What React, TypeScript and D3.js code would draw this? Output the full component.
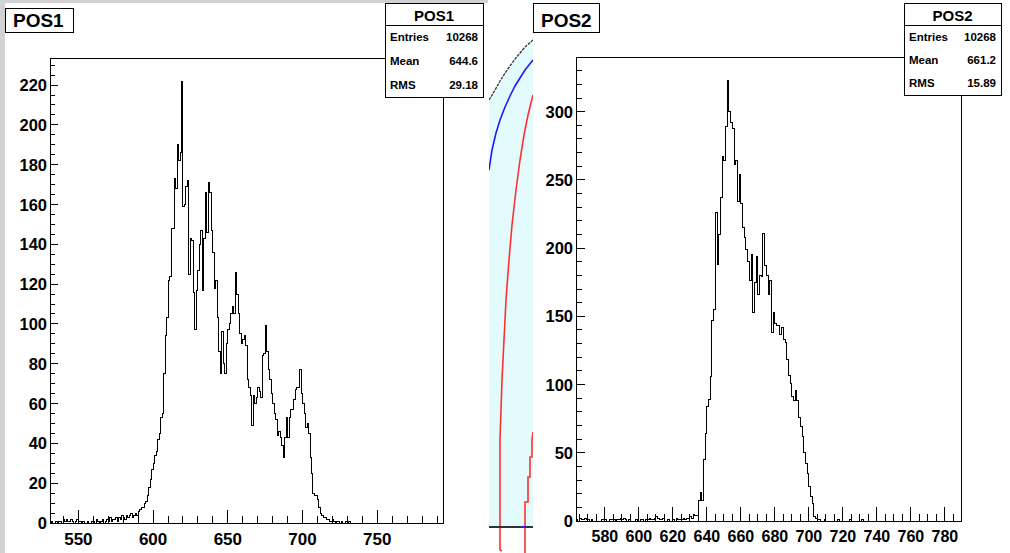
import React from 'react';
import * as d3 from 'd3';

// POS1 histogram, 1-unit bins starting at 531 (bins after the last one are empty)
const POS1_FIRST_BIN = 531;
const POS1_COUNTS = [
  0, 1, 0, 0, 1, 0, 1, 1, 0, 2,
  1, 2, 1, 1, 2, 1, 0, 1, 2, 1,
  1, 0, 1, 0, 0, 1, 0, 0, 1, 1,
  0, 2, 1, 0, 1, 2, 0, 1, 2, 1,
  3, 1, 2, 2, 3, 1, 3, 2, 4, 3,
  2, 4, 3, 4, 5, 3, 4, 5, 4, 6,
  7, 8, 8, 10, 11, 14, 18, 22, 27, 30,
  34, 36, 42, 45, 53, 55, 75, 94, 103, 122,
  124, 148, 148, 173, 168, 190, 182, 186, 222, 159,
  160, 169, 172, 125, 143, 142, 116, 97, 117, 127,
  140, 147, 117, 143, 166, 146, 171, 166, 147, 136,
  118, 122, 103, 86, 75, 96, 80, 75, 90, 97,
  100, 105, 109, 105, 126, 115, 105, 95, 90, 92,
  94, 89, 72, 68, 64, 49, 64, 60, 63, 68,
  66, 63, 84, 85, 99, 86, 77, 72, 65, 60,
  55, 52, 44, 46, 43, 39, 33, 43, 53, 43,
  53, 57, 57, 62, 67, 68, 68, 77, 65, 60,
  55, 48, 50, 45, 33, 25, 15, 14, 14, 12,
  8, 5, 4, 3, 3, 2, 2, 1, 1, 2,
  1, 0, 1, 1, 0, 1, 0, 0, 1, 0, 1,
];

// POS2 histogram, 1-unit bins starting at 563
const POS2_FIRST_BIN = 563;
const POS2_COUNTS = [
  1, 0, 2, 1, 1, 2, 1, 1, 0, 1,
  0, 0, 0, 0, 0, 1, 1, 1, 0, 0,
  1, 1, 1, 0, 1, 1, 2, 1, 2, 1,
  0, 1, 0, 0, 0, 1, 0, 0, 1, 1,
  0, 1, 1, 2, 1, 1, 2, 3, 2, 1,
  1, 2, 0, 0, 1, 0, 0, 1, 0, 2,
  1, 1, 1, 2, 1, 2, 2, 3, 2, 5,
  4, 4, 15, 21, 15, 45, 64, 84, 89, 106,
  147, 155, 226, 188, 210, 237, 267, 264, 289, 323,
  300, 292, 288, 261, 264, 234, 254, 233, 215, 208,
  199, 190, 176, 195, 153, 175, 194, 166, 180, 179,
  211, 187, 180, 166, 176, 138, 153, 145, 143, 143,
  137, 142, 133, 131, 118, 107, 101, 91, 88, 96,
  88, 76, 69, 62, 50, 42, 35, 25, 18, 13,
  3, 2, 1, 1, 0, 0, 1, 0, 0, 0,
  0, 0, 0, 0, 1, 0, 0, 0, 0, 0,
  0, 1, 0, 0, 0, 0, 0, 0, 1,
];

const POS1_STATS = [['Entries', '10268'], ['Mean', '644.6'], ['RMS', '29.18']];
const POS2_STATS = [['Entries', '10268'], ['Mean', '661.2'], ['RMS', '15.89']];

// the window peeking out between the two canvases (its own arbitrary units)
const STRIP_BLACK = [[0, 427], [6, 437], [11, 446], [16, 454], [21, 461], [26, 468], [31, 474], [36, 480], [44, 487]];
const STRIP_BLUE = [[0, 357], [3, 377], [7, 394], [11, 407], [16, 420], [21, 431], [26, 441], [31, 449], [36, 457], [44, 467]];
const STRIP_RED_A = [[44, 432], [39, 412], [35, 392], [31, 367], [27, 337], [23, 302], [20, 267], [17, 227], [15, 187], [13, 147], [12, 117], [11, 87], [11, -23], [13, -24]];
const STRIP_RED_B = [[44, 95], [43, 87], [43, 70], [41, 70], [41, 50], [39, 50], [39, 25], [36, 25], [36, -26]];

const FONT = "'Liberation Sans', Arial, Helvetica, sans-serif";

type PanelProps = {
  title: string;
  counts: number[];
  firstBin: number;
  xDomain: [number, number];
  yMax: number;
  frame: { left: number; top: number; right: number; bottom: number };
  xMajor: number;
  xMinor: number;
  yMajor: number;
  yMinor: number;
  xTickLen: [number, number];
  yTickLen: [number, number];
  xLabelY: number;
  xLabelSize: number;
  titleBox: { x: number; y: number; w: number; h: number };
  statsBox: { x: number; y: number; w: number; h: number };
  stats: string[][];
};

function Panel(p: PanelProps) {
  const { frame } = p;
  const x = d3.scaleLinear().domain(p.xDomain).range([frame.left, frame.right]);
  const y = d3.scaleLinear().domain([0, p.yMax]).range([frame.bottom, frame.top]);

  const pts: [number, number][] = [[p.firstBin, 0]];
  p.counts.forEach((c, i) => pts.push([p.firstBin + i, c]));
  pts.push([p.firstBin + p.counts.length, 0]);
  const line = d3.line<[number, number]>()
    .x(d => x(d[0]))
    .y(d => y(d[1]))
    .curve(d3.curveStepAfter);

  const xTicks = d3.range(Math.ceil(p.xDomain[0] / p.xMinor) * p.xMinor, p.xDomain[1], p.xMinor);
  const yTicks = d3.range(0, p.yMax, p.yMinor);

  const sb = p.statsBox;
  const rowH = (sb.h - 22) / 3;

  return (
    <g fontFamily={FONT} fontWeight="bold">
      <rect x={frame.left} y={frame.top} width={frame.right - frame.left} height={frame.bottom - frame.top}
        fill="none" stroke="#000" strokeWidth={1} shapeRendering="crispEdges" />
      {xTicks.map(t => {
        const major = t % p.xMajor === 0;
        return (
          <line key={'x' + t} x1={x(t)} x2={x(t)} y1={frame.bottom} y2={frame.bottom - (major ? p.xTickLen[0] : p.xTickLen[1])}
            stroke="#000" shapeRendering="crispEdges" />
        );
      })}
      {xTicks.filter(t => t % p.xMajor === 0).map(t => (
        <text key={'xl' + t} x={x(t)} y={p.xLabelY} textAnchor="middle" fontSize={p.xLabelSize}>{t}</text>
      ))}
      {yTicks.map(t => {
        const major = t % p.yMajor === 0;
        return (
          <line key={'y' + t} x1={frame.left} x2={frame.left + (major ? p.yTickLen[0] : p.yTickLen[1])} y1={y(t)} y2={y(t)}
            stroke="#000" shapeRendering="crispEdges" />
        );
      })}
      {yTicks.filter(t => t % p.yMajor === 0).map(t => (
        <text key={'yl' + t} x={frame.left - 3} y={y(t) + 6} textAnchor="end" fontSize={16.5}>{t}</text>
      ))}
      <path d={line(pts) || ''} fill="none" stroke="#000" strokeWidth={1} shapeRendering="crispEdges" />

      <rect x={p.titleBox.x} y={p.titleBox.y} width={p.titleBox.w} height={p.titleBox.h}
        fill="#fff" stroke="#000" shapeRendering="crispEdges" />
      <text x={p.titleBox.x + 8} y={p.titleBox.y + p.titleBox.h - 5} fontSize={19}>{p.title}</text>

      <rect x={sb.x} y={sb.y} width={sb.w} height={sb.h} fill="#fff" stroke="#000" shapeRendering="crispEdges" />
      <line x1={sb.x} x2={sb.x + sb.w} y1={sb.y + 22} y2={sb.y + 22} stroke="#000" shapeRendering="crispEdges" />
      <text x={sb.x + sb.w / 2} y={sb.y + 18} textAnchor="middle" fontSize={15}>{p.title}</text>
      {p.stats.map((s, i) => (
        <g key={s[0]}>
          <text x={sb.x + 5} y={sb.y + 22 + rowH * (i + 0.5) + 4} fontSize={11.5}>{s[0]}</text>
          <text x={sb.x + sb.w - 5} y={sb.y + 22 + rowH * (i + 0.5) + 4} fontSize={11.5} textAnchor="end">{s[1]}</text>
        </g>
      ))}
    </g>
  );
}

function Strip() {
  const xs = d3.scaleLinear().domain([0, 44]).range([489, 533]);
  const ys = d3.scaleLinear().domain([0, 487]).range([527, 40]);
  const line = d3.line<number[]>().x(d => xs(d[0])).y(d => ys(d[1]));
  const area = d3.area<number[]>().x(d => xs(d[0])).y0(ys(0)).y1(d => ys(d[1]));
  return (
    <g>
      <clipPath id="stripClip"><rect x={489} y={0} width={44} height={553} /></clipPath>
      <g clipPath="url(#stripClip)">
        <path d={area(STRIP_BLACK) || ''} fill="#e4fbfd" />
        <path d={line(STRIP_BLACK) || ''} fill="none" stroke="#333" strokeWidth={1.3} strokeDasharray="3 1" />
        <path d={line(STRIP_BLUE) || ''} fill="none" stroke="#1a1aff" strokeWidth={1.6} />
        <path d={line(STRIP_RED_A) || ''} fill="none" stroke="#ff3030" strokeWidth={1.6} />
        <path d={line(STRIP_RED_B) || ''} fill="none" stroke="#ff3030" strokeWidth={1.6} />
        <line x1={xs(0)} x2={xs(44)} y1={ys(0)} y2={ys(0)} stroke="#333" strokeWidth={2} />
        <line x1={xs(32)} x2={xs(36)} y1={ys(0)} y2={ys(0)} stroke="#2222ff" strokeWidth={2} />
      </g>
    </g>
  );
}

export default function App() {
  return (
    <div style={{ position: 'fixed', left: 0, top: 0 }}>
      <svg width={1010} height={553} style={{ display: 'block' }}>
        <rect x={0} y={0} width={1010} height={553} fill="#fff" />
        <rect x={0} y={0} width={5} height={553} fill="#d2d2d2" />
        <rect x={0} y={0} width={488} height={3} fill="#d2d2d2" />
        <Strip />
        <Panel
          title="POS1"
          counts={POS1_COUNTS}
          firstBin={POS1_FIRST_BIN}
          xDomain={[531, 794]}
          yMax={233.6}
          frame={{ left: 50, top: 58, right: 443, bottom: 523 }}
          xMajor={50} xMinor={10} yMajor={20} yMinor={5}
          xTickLen={[13, 7]} yTickLen={[8, 4.5]}
          xLabelY={545}
          xLabelSize={17}
          titleBox={{ x: 5, y: 8, w: 68, h: 24 }}
          statsBox={{ x: 385, y: 3, w: 98, h: 94 }}
          stats={POS1_STATS}
        />
        <Panel
          title="POS2"
          counts={POS2_COUNTS}
          firstBin={POS2_FIRST_BIN}
          xDomain={[563, 789.5]}
          yMax={339.7}
          frame={{ left: 576, top: 57.5, right: 961, bottom: 521 }}
          xMajor={20} xMinor={5} yMajor={50} yMinor={10}
          xTickLen={[14, 7]} yTickLen={[9, 5.5]}
          xLabelY={542}
          xLabelSize={16}
          titleBox={{ x: 533, y: 3, w: 66, h: 29 }}
          statsBox={{ x: 904, y: 3, w: 97, h: 92 }}
          stats={POS2_STATS}
        />
      </svg>
    </div>
  );
}
